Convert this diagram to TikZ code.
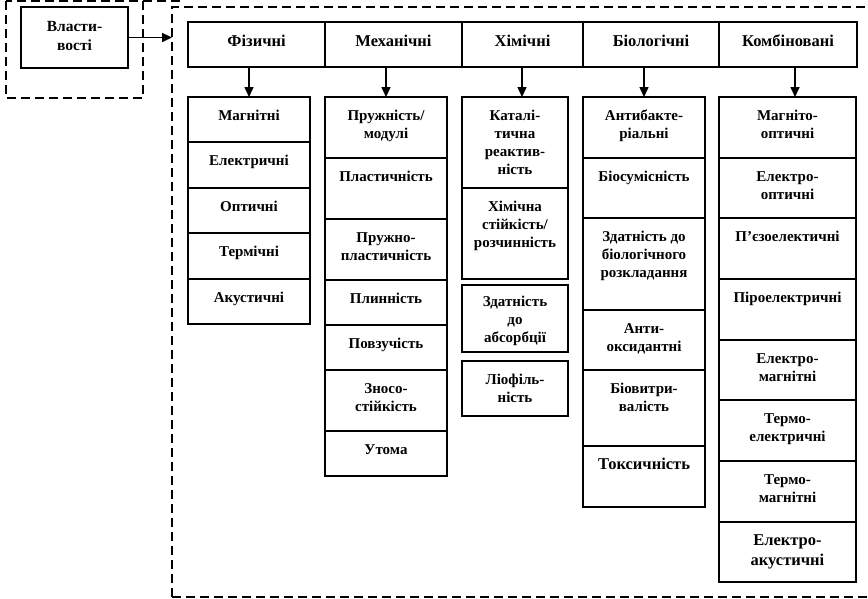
\documentclass[tikz,border=0pt]{standalone}
\usepackage{fontspec}
\setmainfont{Liberation Serif}
\usetikzlibrary{positioning,arrows.meta}
\newcommand{\celltxt}[4][23pt]{\parbox[c][#3][t]{#2}{\centering\rule{0pt}{#1}#4\par}}
\begin{document}
\begin{tikzpicture}[x=1pt,y=-1pt,
  cell/.style={draw,line width=1.8pt,inner sep=0pt,outer sep=0pt,font=\bfseries\fontsize{15}{18}\selectfont},
  bigcell/.style={cell,font=\bfseries\fontsize{16.5}{20}\selectfont},
  headcell/.style={cell,font=\bfseries\fontsize{16.5}{20}\selectfont},
  frame/.style={draw,line width=1.4pt,dash pattern=on 9pt off 5pt},
  arr/.style={line width=1.6pt,-{Triangle[length=10pt,width=9pt]}}]
\useasboundingbox (0,0) rectangle (868,598);
% dashed frames
\draw[frame] (6,1) rectangle (143,98);
\draw[frame] (143,1) -- (180,1);
\draw[frame] (172,597) -- (172,7) -- (880,7);
\draw[frame] (172,597) -- (880,597);
% properties
\node[cell,font=\bfseries\fontsize{15.5}{19}\selectfont,anchor=north west] (prop) at (21,7) {\celltxt[24pt]{107pt}{61pt}{Власти-\\вості}};
\coordinate (entry) at (172,37.5);
\draw[arr] (prop.east) -- (entry);
% header row
\node[headcell,anchor=north west] (hphys) at (188,22) {\celltxt[24pt]{137pt}{45pt}{Фізичні}};
\node[headcell,right=0pt of hphys] (hmech) {\celltxt[24pt]{137pt}{45pt}{Механічні}};
\node[headcell,right=0pt of hmech] (hchem) {\celltxt[24pt]{121pt}{45pt}{Хімічні}};
\node[headcell,right=0pt of hchem] (hbio) {\celltxt[24pt]{136pt}{45pt}{Біологічні}};
\node[headcell,right=0pt of hbio] (hcomb) {\celltxt[24pt]{138pt}{45pt}{Комбіновані}};
% physical
\node[cell,anchor=north west] (phys1) at (188,97) {\celltxt{122pt}{45pt}{Магнітні}};
\node[cell,below=0pt of phys1] (phys2) {\celltxt{122pt}{46pt}{Електричні}};
\node[cell,below=0pt of phys2] (phys3) {\celltxt{122pt}{45pt}{Оптичні}};
\node[cell,below=0pt of phys3] (phys4) {\celltxt{122pt}{46pt}{Термічні}};
\node[cell,below=0pt of phys4] (phys5) {\celltxt{122pt}{45pt}{Акустичні}};
% mechanical
\node[cell,anchor=north west] (mech1) at (325,97) {\celltxt{122pt}{61pt}{Пружність/\\модулі}};
\node[cell,below=0pt of mech1] (mech2) {\celltxt{122pt}{61pt}{Пластичність}};
\node[cell,below=0pt of mech2] (mech3) {\celltxt{122pt}{61pt}{Пружно-\\пластичність}};
\node[cell,below=0pt of mech3] (mech4) {\celltxt{122pt}{45pt}{Плинність}};
\node[cell,below=0pt of mech4] (mech5) {\celltxt{122pt}{45pt}{Повзучість}};
\node[cell,below=0pt of mech5] (mech6) {\celltxt{122pt}{61pt}{Зносо-\\стійкість}};
\node[cell,below=0pt of mech6] (mech7) {\celltxt{122pt}{45pt}{Утома}};
% chemical
\node[cell,anchor=north west] (chem1) at (462,97) {\celltxt{106pt}{91pt}{Каталі-\\тична\\реактив-\\ність}};
\node[cell,below=0pt of chem1] (chem2) {\celltxt{106pt}{91pt}{Хімічна\\стійкість/\\розчинність}};
\node[cell,below=6pt of chem2] (chem3) {\celltxt[21pt]{106pt}{67pt}{Здатність\\до\\абсорбції}};
\node[cell,below=9pt of chem3] (chem4) {\celltxt{106pt}{55pt}{Ліофіль-\\ність}};
% biological
\node[cell,anchor=north west] (bio1) at (583,97) {\celltxt{122pt}{61pt}{Антибакте-\\ріальні}};
\node[cell,below=0pt of bio1] (bio2) {\celltxt{122pt}{60pt}{Біосумісність}};
\node[cell,below=0pt of bio2] (bio3) {\celltxt{122pt}{92pt}{Здатність до\\біологічного\\розкладання}};
\node[cell,below=0pt of bio3] (bio4) {\celltxt{122pt}{60pt}{Анти-\\оксидантні}};
\node[cell,below=0pt of bio4] (bio5) {\celltxt{122pt}{76pt}{Біовитри-\\валість}};
\node[bigcell,below=0pt of bio5] (bio6) {\celltxt{122pt}{61pt}{Токсичність}};
% combined
\node[cell,anchor=north west] (comb1) at (719,97) {\celltxt{137pt}{61pt}{Магніто-\\оптичні}};
\node[cell,below=0pt of comb1] (comb2) {\celltxt{137pt}{60pt}{Електро-\\оптичні}};
\node[cell,below=0pt of comb2] (comb3) {\celltxt{137pt}{61pt}{П’єзоелектичні}};
\node[cell,below=0pt of comb3] (comb4) {\celltxt{137pt}{61pt}{Піроелектричні}};
\node[cell,below=0pt of comb4] (comb5) {\celltxt{137pt}{60pt}{Електро-\\магнітні}};
\node[cell,below=0pt of comb5] (comb6) {\celltxt{137pt}{61pt}{Термо-\\електричні}};
\node[cell,below=0pt of comb6] (comb7) {\celltxt{137pt}{61pt}{Термо-\\магнітні}};
\node[bigcell,below=0pt of comb7] (comb8) {\celltxt{137pt}{60pt}{Електро-\\акустичні}};
% arrows
\coordinate (chemin) at ([xshift=7pt]chem1.north);
\coordinate (combin) at ([xshift=7.5pt]comb1.north);
\draw[arr] (hphys.south -| phys1.north) -- (phys1.north);
\draw[arr] (hmech.south -| mech1.north) -- (mech1.north);
\draw[arr] (hchem.south -| chemin) -- (chemin);
\draw[arr] (hbio.south -| bio1.north) -- (bio1.north);
\draw[arr] (hcomb.south -| combin) -- (combin);
\end{tikzpicture}
\end{document}
